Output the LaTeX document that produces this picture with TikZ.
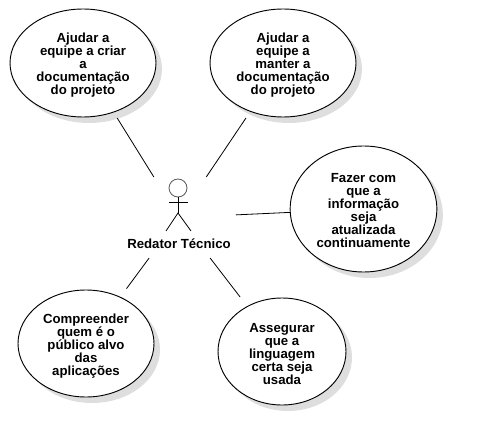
\documentclass[tikz,border=0pt]{standalone}
\usepackage{fontspec}
\setmainfont{Liberation Sans}
\usetikzlibrary{shapes.geometric, shadows}
\newcommand{\topgap}[1]{\rule{0pt}{#1}}
\begin{document}
\begin{tikzpicture}[x=0.75pt,y=-0.75pt,
    usecase/.style = {draw, ellipse, fill=white, line width=0.7pt, outer sep=0pt, inner sep=0pt, align=center, font=\bfseries\fontsize{9.9}{9.75}\selectfont, drop shadow={shadow xshift=4.5pt, shadow yshift=-4.5pt, opacity=1, fill=black!13}},
    link/.style = {line width=0.6pt}]
    \useasboundingbox (0,0) rectangle (477,445);
    \node[usecase, minimum width=109.5pt, minimum height=81pt] (ajudarcriar) at (83,63) {\topgap{11pt}Ajudar a\\equipe a criar\\a\\documenta\c{c}\~ao\\do projeto};
    \node[usecase, minimum width=109.5pt, minimum height=81pt] (ajudarmanter) at (283,63) {\topgap{11pt}Ajudar a\\equipe a\\manter a\\documenta\c{c}\~ao\\do projeto};
    \node[usecase, minimum width=110pt, minimum height=94.5pt] (fazer) at (363.5,209) {\topgap{8.7pt}Fazer com\\que a\\informa\c{c}\~ao\\seja\\atualizada\\continuamente};
    \node[usecase, minimum width=102pt, minimum height=80.25pt] (compreender) at (86,343.5) {\topgap{11pt}Compreender\\quem \'e o\\p\'ublico alvo\\das\\aplica\c{c}\~oes};
    \node[usecase, minimum width=96pt, minimum height=80.25pt] (assegurar) at (282,351.5) {\topgap{11pt}Assegurar\\que a\\linguagem\\certa seja\\usada};
    % actor
    \node[minimum width=85.5pt, minimum height=60.75pt, outer sep=0pt, inner sep=0pt] (ator) at (179,217.5) {};
    \node[draw=black!65, circle, line width=0.6pt, minimum size=13.5pt, inner sep=0pt, outer sep=0pt] (head) at (178,188) {};
    \coordinate (hip) at (178,213);
    \coordinate (armL) at (169,202);
    \coordinate (armR) at (188,202);
    \coordinate (footL) at (166,231);
    \coordinate (footR) at (191,231);
    \draw[link] (head) -- (hip);
    \draw[link] (armL) -- (armR);
    \draw[link] (footL) -- (hip) -- (footR);
    \node[font=\bfseries\fontsize{9.9}{9.75}\selectfont, inner sep=0pt] (redator) at (179,244) {Redator T\'ecnico};
    % links
    \draw[link, shorten >=5.3pt] (ator) -- (ajudarcriar);
    \draw[link, shorten >=6pt] (ator) -- (ajudarmanter);
    \draw[link] (ator) -- (fazer);
    \draw[link, shorten >=8pt] (ator) -- (compreender);
    \draw[link, shorten >=9pt] (ator) -- (assegurar);
\end{tikzpicture}
\end{document}
